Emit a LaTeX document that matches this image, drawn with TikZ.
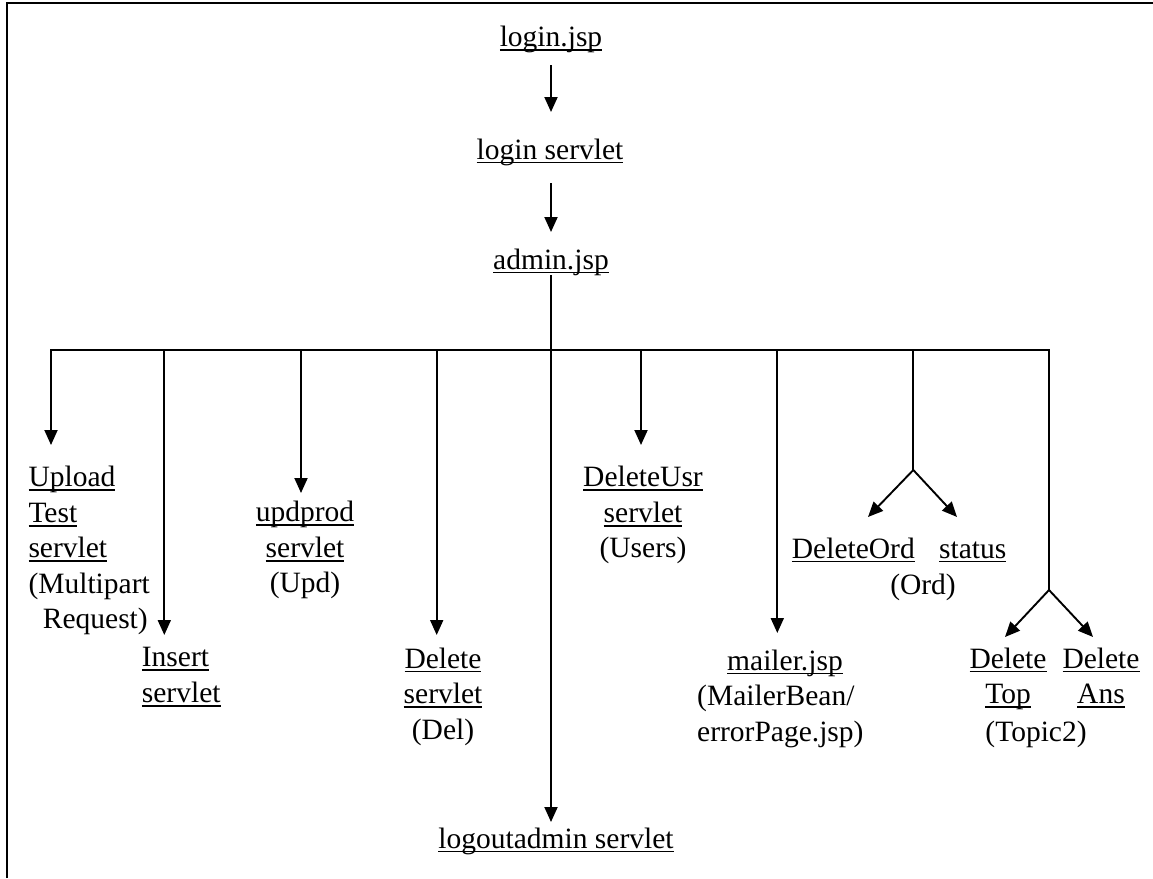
\documentclass[tikz,border=0pt]{standalone}
\usepackage{fontspec}
\setmainfont{Liberation Serif}
\newcommand{\myul}[1]{\setbox0\hbox{#1}\rlap{\vrule height -2.6pt depth 4.4pt width \wd0}\box0}
\usetikzlibrary{arrows.meta}
\begin{document}
\begin{tikzpicture}[x=1pt,y=-1pt,
  lbl/.style={inner sep=0pt, font=\fontsize{29.5}{35.5}\selectfont, anchor=base},
  arr/.style={line width=1.9pt, -{Triangle[length=15pt,width=13pt]}},
  ln/.style={line width=1.9pt},
  frame/.style={line width=2.5pt}
]
\useasboundingbox (0,0) rectangle (1153,878);
\draw[frame] (7,878) -- (7,3) -- (1153,3);

% top chain
\node[lbl] (ljsp) at (551,46.7) {\myul{login.jsp}};
\node[lbl] (lserv) at (550,159) {\myul{login servlet}};
\node[lbl] (admin) at (551,269) {\myul{admin.jsp}};

% leaves (base anchor = baseline of last line)
\node[lbl, anchor=base west, align=left] (upload) at (28.3,628.7)
  {\myul{Upload}\\\myul{Test}\\\myul{servlet}\\(Multipart\\\hspace*{14.4pt}Request)};
\node[lbl, anchor=base west, align=left] (insert) at (141.7,702.2)
  {\myul{Insert}\\\myul{servlet}};
\node[lbl, align=center] (updprod) at (305,592.7)
  {\myul{updprod}\\\myul{servlet}\\(Upd)};
\node[lbl, align=center] (delete) at (443,739)
  {\myul{Delete}\\\myul{servlet}\\(Del)};
\node[lbl, align=center] (delusr) at (643,557.7)
  {\myul{DeleteUsr}\\\myul{servlet}\\(Users)};
\node[lbl, anchor=base west, align=left] (mailer) at (697,741)
  {\hspace*{30pt}\myul{mailer.jsp}\\(MailerBean/\\errorPage.jsp)};
\node[lbl, anchor=base west] (delord) at (791.7,558) {\myul{DeleteOrd}};
\node[lbl, anchor=base west] (status) at (939,558) {\myul{status}};
\node[lbl] (ord) at (923,594) {(Ord)};
\node[lbl, align=center] (deltop) at (1008,703.5) {\myul{Delete}\\\myul{Top}};
\node[lbl, align=center] (delans) at (1101,703.5) {\myul{Delete}\\\myul{Ans}};
\node[lbl] (topic) at (1036,741) {(Topic2)};
\node[lbl] (logout) at (556,848) {\myul{logoutadmin servlet}};

% coordinates
\coordinate (a1s) at (551,65);   \coordinate (a1e) at (551,112);
\coordinate (a2s) at (551,183);  \coordinate (a2e) at (551,232);
\coordinate (b1) at (51,350);    \coordinate (t1) at (51,445);
\coordinate (b2) at (164.3,350); \coordinate (t2) at (164.3,635);
\coordinate (b3) at (301,350);   \coordinate (t3) at (301,493);
\coordinate (b4) at (436.7,350); \coordinate (t4) at (436.7,635);
\coordinate (t5) at (551,822);
\coordinate (b6) at (641,350);   \coordinate (t6) at (641,445);
\coordinate (b7) at (777.3,350); \coordinate (t7) at (777.3,633);
\coordinate (b8) at (913.3,350); \coordinate (f8) at (913.3,470);
\coordinate (t8a) at (868,517);  \coordinate (t8b) at (957,517);
\coordinate (b9) at (1049,350);  \coordinate (f9) at (1049,590);
\coordinate (t9a) at (1005,637); \coordinate (t9b) at (1093,637);

% connectors
\draw[arr] (a1s) -- (a1e);
\draw[arr] (a2s) -- (a2e);
\draw[arr] (admin.south) -- (t5);
\draw[arr] (f9) -- (b9) -- (b1) -- (t1);
\draw[arr] (b2) -- (t2);
\draw[arr] (b3) -- (t3);
\draw[arr] (b4) -- (t4);
\draw[arr] (b6) -- (t6);
\draw[arr] (b7) -- (t7);
\draw[ln] (b8) -- (f8);
\draw[arr] (f8) -- (t8a);
\draw[arr] (f8) -- (t8b);
\draw[arr] (f9) -- (t9a);
\draw[arr] (f9) -- (t9b);
\end{tikzpicture}
\end{document}
